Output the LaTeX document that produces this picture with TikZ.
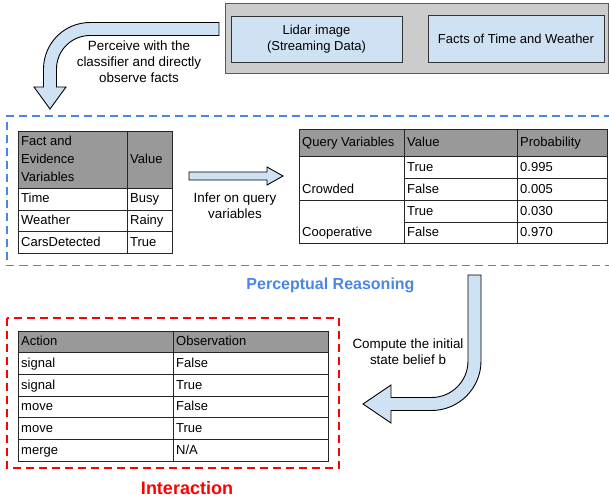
\documentclass[tikz,border=0pt]{standalone}
\usepackage{fontspec}
\setmainfont{Liberation Sans}
\definecolor{lblue}{HTML}{CFE2F3}
\definecolor{hgray}{HTML}{999999}
\definecolor{bgray}{HTML}{CCCCCC}
\definecolor{gblue}{HTML}{4A86E8}
\definecolor{gred}{HTML}{FF0000}
\tikzset{
  every node/.style={font=\fontsize{13}{16}\selectfont, inner sep=0pt},
  tcell/.style={draw=black!85, line width=0.9pt, anchor=north west},
  hcell/.style={tcell, fill=hgray},
  bcell/.style={tcell, fill=white},
  ctext/.style={anchor=base west},
  srcbox/.style={draw=black!80, line width=0.9pt, fill=lblue, align=center},
  blockarrow/.style={draw=black, line width=0.9pt, fill=lblue, line join=miter},
  lbl/.style={align=center, font=\fontsize{13.4}{16}\selectfont},
  grp/.style={line width=1.8pt, dash pattern=on 8pt off 5pt},
  title/.style={font=\fontsize{16}{19}\bfseries\selectfont}
}
% \tc{name}{x}{y}{w}{h}{style}{text}
\newcommand\tc[7]{%
  \node[#6, minimum width=#4pt, minimum height=#5pt] (#1) at (#2,#3) {};
  \node[ctext] (#1t) at ({#2+3},{#3+#5/2+4.2}) {#7};}
\begin{document}
\begin{tikzpicture}[x=1pt,y=-1pt]
\useasboundingbox (0,0) rectangle (609,497);
% top source box
\node[draw=black!65, line width=0.9pt, fill=bgray, minimum width=383pt, minimum height=70pt, anchor=north west] (src) at (225,3) {};
\node[srcbox, minimum width=171pt, minimum height=46pt] (lidar) at (316.5,39) {Lidar image\\(Streaming Data)};
\node[srcbox, minimum width=176pt, minimum height=47pt] (facts) at (516,38.5) {Facts of Time and Weather};
% arrow 1
\draw[blockarrow] (219,22.5) -- (90,22.5) .. controls (64.3,22.5) and (43.5,43.3) .. (43.5,69) -- (43.5,87) -- (34,87) -- (50,109) -- (66,87) -- (56.5,87) -- (56.5,69) .. controls (56.5,50.5) and (71.5,35.5) .. (90,35.5) -- (219,35.5) -- cycle;
\node[lbl] (perceive) at (139,62) {Perceive with the\\classifier and directly\\observe facts};
% perceptual reasoning group
\draw[grp, draw=gblue] (612,116) -- (7,116) -- (7,265.5) -- (612,265.5);
\node[title, text=gblue] (prtitle) at (330.5,285) {Perceptual Reasoning};
% evidence table
\tc{e11}{18}{131}{109}{57}{hcell}{}
\node[anchor=west, align=left, font=\fontsize{13}{18}\selectfont] (e11h) at (21,159) {Fact and\\Evidence\\Variables};
\tc{e12}{127}{131}{45}{57}{hcell}{Value}
\tc{e21}{18}{188}{109}{21.5}{bcell}{Time}
\tc{e22}{127}{188}{45}{21.5}{bcell}{Busy}
\tc{e31}{18}{209.5}{109}{21.5}{bcell}{Weather}
\tc{e32}{127}{209.5}{45}{21.5}{bcell}{Rainy}
\tc{e41}{18}{231}{109}{22}{bcell}{CarsDetected}
\tc{e42}{127}{231}{45}{22}{bcell}{True}
% infer arrow
\draw[blockarrow] (189,172) -- (267,172) -- (267,167) -- (283,176) -- (267,185) -- (267,180) -- (189,180) -- cycle;
\node[lbl] (infer) at (235,206) {Infer on query\\variables};
% query table
\tc{q11}{299}{129}{105}{27}{hcell}{Query Variables}
\tc{q12}{404}{129}{113}{27}{hcell}{Value}
\tc{q13}{517}{129}{90}{27}{hcell}{Probability}
\tc{q21}{299}{156}{105}{44}{bcell}{}
\tc{q22}{404}{156}{113}{22}{bcell}{True}
\tc{q23}{517}{156}{90}{22}{bcell}{0.995}
\tc{q32}{404}{178}{113}{22}{bcell}{False}
\tc{q33}{517}{178}{90}{22}{bcell}{0.005}
\tc{q41}{299}{200}{105}{43}{bcell}{}
\tc{q42}{404}{200}{113}{22}{bcell}{True}
\tc{q43}{517}{200}{90}{22}{bcell}{0.030}
\tc{q52}{404}{222}{113}{21}{bcell}{False}
\tc{q53}{517}{222}{90}{21}{bcell}{0.970}
\node[ctext] (crowded) at (302,193.2) {Crowded};
\node[ctext] (coop) at (302,236.7) {Cooperative};
% arrow 2
\draw[blockarrow] (468,275) -- (481,275) -- (481,361) .. controls (481,388.3) and (458.8,410.5) .. (431.5,410.5) -- (391,410.5) -- (391,423) -- (363,404) -- (391,385) -- (391,397.5) -- (431.5,397.5) .. controls (451.7,397.5) and (468,381.2) .. (468,361) -- cycle;
\node[lbl] (compute) at (408,352) {Compute the initial\\state belief b};
% interaction group
\draw[grp, draw=gred] (7,318) rectangle (339,468);
\node[title, text=gred, font=\fontsize{18}{21}\bfseries\selectfont] (intitle) at (187,488) {Interaction};
% action table
\tc{a11}{18}{331}{155}{21}{hcell}{Action}
\tc{a12}{173}{331}{155}{21}{hcell}{Observation}
\tc{a21}{18}{352}{155}{22}{bcell}{signal}
\tc{a22}{173}{352}{155}{22}{bcell}{False}
\tc{a31}{18}{374}{155}{22}{bcell}{signal}
\tc{a32}{173}{374}{155}{22}{bcell}{True}
\tc{a41}{18}{396}{155}{21}{bcell}{move}
\tc{a42}{173}{396}{155}{21}{bcell}{False}
\tc{a51}{18}{417}{155}{22}{bcell}{move}
\tc{a52}{173}{417}{155}{22}{bcell}{True}
\tc{a61}{18}{439}{155}{22}{bcell}{merge}
\tc{a62}{173}{439}{155}{22}{bcell}{N/A}
\end{tikzpicture}
\end{document}
